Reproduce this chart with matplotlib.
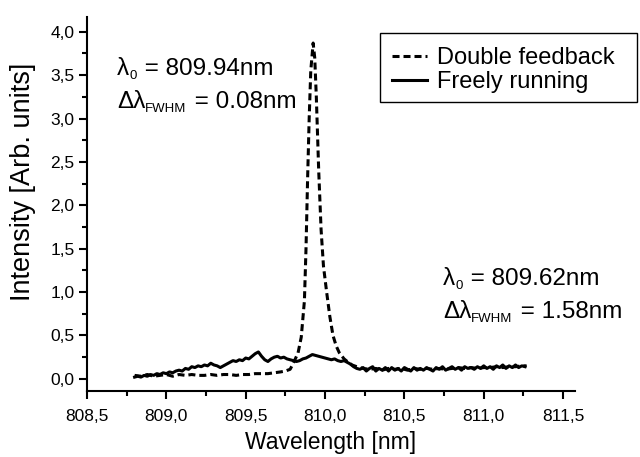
import matplotlib
matplotlib.use("Agg")
import matplotlib.pyplot as plt
from matplotlib.patches import Rectangle
from matplotlib.ticker import MultipleLocator, FuncFormatter

# ---------------- data ----------------
fb_x = [808.80, 808.84, 808.88, 808.92, 808.96, 809.00, 809.04, 809.08, 809.12, 809.16,
        809.20, 809.24, 809.28, 809.32, 809.36, 809.40, 809.44, 809.48, 809.52, 809.56,
        809.60, 809.64, 809.68, 809.72, 809.75, 809.78, 809.80, 809.83, 809.85, 809.87,
        809.88, 809.89, 809.90, 809.91, 809.925, 809.935, 809.945, 809.96, 809.975, 809.99,
        810.01, 810.03, 810.05, 810.07, 810.09, 810.12, 810.14, 810.17, 810.20, 810.24,
        810.28, 810.32, 810.36, 810.40, 810.44, 810.48, 810.52, 810.56, 810.60, 810.64,
        810.68, 810.72, 810.76, 810.80, 810.84, 810.88, 810.92, 810.96, 811.00, 811.04,
        811.08, 811.12, 811.16, 811.20, 811.24, 811.27]
fb_y = [0.04, 0.03, 0.05, 0.03, 0.04, 0.05, 0.03, 0.05, 0.04, 0.05,
        0.04, 0.04, 0.05, 0.04, 0.05, 0.05, 0.04, 0.05, 0.05, 0.06,
        0.06, 0.06, 0.07, 0.08, 0.09, 0.11, 0.18, 0.30, 0.48, 0.90,
        1.50, 2.30, 3.00, 3.55, 3.87, 3.70, 3.25, 2.40, 1.72, 1.30,
        1.00, 0.72, 0.50, 0.38, 0.30, 0.23, 0.20, 0.16, 0.14, 0.12,
        0.11, 0.12, 0.10, 0.12, 0.11, 0.12, 0.10, 0.12, 0.11, 0.12,
        0.11, 0.12, 0.11, 0.12, 0.13, 0.12, 0.13, 0.12, 0.13, 0.13,
        0.14, 0.13, 0.14, 0.14, 0.15, 0.15]

fr_x = [808.80, 808.82, 808.84, 808.86, 808.88, 808.90, 808.92, 808.94, 808.96, 808.98,
        809.00, 809.02, 809.04, 809.06, 809.08, 809.10, 809.12, 809.14, 809.16, 809.18,
        809.20, 809.22, 809.24, 809.26, 809.28, 809.30, 809.32, 809.34, 809.36, 809.38,
        809.40, 809.42, 809.44, 809.46, 809.48, 809.50, 809.52, 809.54, 809.56, 809.58,
        809.60, 809.62, 809.64, 809.66, 809.68, 809.70, 809.72, 809.74, 809.76, 809.78,
        809.80, 809.82, 809.84, 809.86, 809.88, 809.90, 809.92, 809.94, 809.96, 809.98,
        810.00, 810.02, 810.04, 810.06, 810.08, 810.10, 810.12, 810.14, 810.16, 810.18,
        810.20, 810.22, 810.24, 810.26, 810.28, 810.30, 810.32, 810.34, 810.36, 810.38,
        810.40, 810.42, 810.44, 810.46, 810.48, 810.50, 810.52, 810.54, 810.56, 810.58,
        810.60, 810.62, 810.64, 810.66, 810.68, 810.70, 810.72, 810.74, 810.76, 810.78,
        810.80, 810.82, 810.84, 810.86, 810.88, 810.90, 810.92, 810.94, 810.96, 810.98,
        811.00, 811.02, 811.04, 811.06, 811.08, 811.10, 811.12, 811.14, 811.16, 811.18,
        811.20, 811.22, 811.24, 811.26]
fr_y = [0.02, 0.03, 0.02, 0.04, 0.03, 0.05, 0.04, 0.06, 0.05, 0.07,
        0.06, 0.08, 0.07, 0.09, 0.10, 0.09, 0.12, 0.11, 0.14, 0.13,
        0.15, 0.14, 0.16, 0.15, 0.18, 0.16, 0.15, 0.13, 0.15, 0.17,
        0.19, 0.21, 0.20, 0.22, 0.21, 0.24, 0.23, 0.26, 0.29, 0.31,
        0.26, 0.22, 0.20, 0.23, 0.25, 0.26, 0.24, 0.25, 0.23, 0.22,
        0.21, 0.20, 0.21, 0.23, 0.24, 0.26, 0.28, 0.27, 0.26, 0.25,
        0.24, 0.23, 0.22, 0.23, 0.21, 0.20, 0.21, 0.19, 0.17, 0.14,
        0.12, 0.11, 0.13, 0.09, 0.12, 0.14, 0.09, 0.12, 0.10, 0.13,
        0.09, 0.13, 0.10, 0.12, 0.09, 0.13, 0.11, 0.09, 0.13, 0.10,
        0.12, 0.10, 0.13, 0.11, 0.09, 0.13, 0.11, 0.14, 0.10, 0.12,
        0.14, 0.11, 0.13, 0.10, 0.14, 0.12, 0.13, 0.11, 0.14, 0.12,
        0.15, 0.12, 0.14, 0.11, 0.15, 0.13, 0.16, 0.12, 0.15, 0.13,
        0.16, 0.13, 0.15, 0.14]

series_labels = ["Double feedback", "Freely running"]
annot_fb = [("\u03bb", "0", " = 809.94nm"), ("\u0394\u03bb", "FWHM", " = 0.08nm")]
annot_fr = [("\u03bb", "0", " = 809.62nm"), ("\u0394\u03bb", "FWHM", " = 1.58nm")]

# ---------------- style ----------------
plt.rcParams["font.family"] = ["Liberation Sans", "DejaVu Sans"]

W, H = 640, 457
fig = plt.figure(figsize=(6.4, 4.57), dpi=100)
ax = fig.add_axes([87/W, 1-391/H, (575-87)/W, (391-17)/H])

ax.plot(fb_x, fb_y, color="black", lw=2.2, linestyle=(0, (2.3, 1.3)), label=series_labels[0])
ax.plot(fr_x, fr_y, color="black", lw=2.2, linestyle="-", label=series_labels[1])

ax.set_xlim(808.5, 811.575)
ax.set_ylim(-0.14, 4.17)
ax.xaxis.set_major_locator(MultipleLocator(0.5))
ax.xaxis.set_minor_locator(MultipleLocator(0.25))
ax.yaxis.set_major_locator(MultipleLocator(0.5))
ax.yaxis.set_minor_locator(MultipleLocator(0.25))
comma = FuncFormatter(lambda v, p: f"{v:.1f}".replace(".", ","))
ax.xaxis.set_major_formatter(comma)
ax.yaxis.set_major_formatter(comma)

for s in ["top", "right"]:
    ax.spines[s].set_visible(False)
for s in ["left", "bottom"]:
    ax.spines[s].set_linewidth(1.5)
ax.tick_params(which="major", direction="out", length=6, width=1.5, labelsize=12.5)
ax.tick_params(axis="x", which="major", pad=7)
ax.tick_params(axis="y", which="major", pad=3)
ax.tick_params(which="minor", direction="out", length=3.5, width=1.5)

ax.set_xlabel("Wavelength [nm]", fontsize=16.5, labelpad=5)
ax.set_ylabel("Intensity [Arb. units]", fontsize=19.5, labelpad=8)
ax.yaxis.set_label_coords(-0.105, 0.56)

leg = ax.legend(loc="upper left", bbox_to_anchor=(380/W, 1-35/H), bbox_transform=fig.transFigure,
                borderaxespad=0, fontsize=17, frameon=False, handlelength=1.5,
                handletextpad=0.4, labelspacing=0.1, borderpad=0.5)
fig.add_artist(Rectangle((380/W, 1-102/H), 257/W, 69/H, transform=fig.transFigure,
                         fill=False, edgecolor="black", linewidth=1.0))

renderer = fig.canvas.get_renderer()


def rich(x_px, base_px, parts, main=17.5, sub=9.5, drop=4):
    base, subtxt, rest = parts
    x = x_px
    for s, size, dy in [(base, main, 0), (subtxt, sub, drop), (rest, main, 0)]:
        t = fig.text(x/W, 1-(base_px+dy)/H, s, fontsize=size, va="baseline", ha="left")
        x += t.get_window_extent(renderer).width + (1 if size == sub else 0)


rich(117, 75, annot_fb[0])
rich(117, 108, annot_fb[1])
rich(443, 285, annot_fr[0])
rich(443, 318, annot_fr[1])

fig.savefig("out.png", dpi=100)
